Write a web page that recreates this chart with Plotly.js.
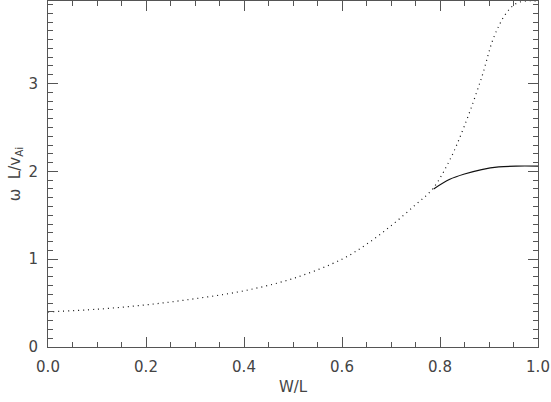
<!DOCTYPE html>
<html>
<head>
<meta charset="utf-8">
<script src="https://cdn.plot.ly/plotly-3.0.1.min.js"></script>
<style>
  html, body { margin: 0; padding: 0; background: #fff; }
  #chart { width: 551px; height: 402px; }
</style>
</head>
<body>
<div id="chart"></div>
<script>
// dotted branch (whole range)
const widthDotted = [0, 0.1, 0.2, 0.3, 0.4, 0.5, 0.6, 0.65, 0.7, 0.75, 0.785, 0.82, 0.85, 0.885, 0.91, 0.935, 0.955, 0.975, 1.0];
const omegaDotted = [0.40, 0.43, 0.48, 0.55, 0.64, 0.78, 1.0, 1.17, 1.38, 1.62, 1.80, 2.13, 2.52, 3.07, 3.53, 3.80, 3.91, 3.94, 3.94];

// solid branch (appears near W/L ~ 0.79)
const widthSolid = [0.787, 0.82, 0.85, 0.885, 0.92, 0.955, 1.0];
const omegaSolid = [1.80, 1.91, 1.97, 2.02, 2.05, 2.06, 2.06];

const axisColor = '#555';
const textFont = { family: 'DejaVu Sans', size: 15, color: '#444' };

let data = [
    {
        x: widthDotted,
        y: omegaDotted,
        mode: 'lines',
        line: { color: '#111', width: 1.2, dash: '1px,4px', shape: 'spline' },
        hoverinfo: 'skip',
    },
    {
        x: widthSolid,
        y: omegaSolid,
        mode: 'lines',
        line: { color: '#111', width: 1.2, shape: 'spline' },
        hoverinfo: 'skip',
    },
];

let layout = {
    width: 551,
    height: 402,
    showlegend: false,
    paper_bgcolor: '#fff',
    plot_bgcolor: '#fff',
    margin: { l: 48, r: 13, t: 1, b: 55 },
    font: textFont,

    xaxis: {
        range: [0, 1],
        dtick: 0.2,
        tickformat: '.1f',
        ticks: 'inside',
        ticklen: 10,
        tickcolor: axisColor,
        ticklabelstandoff: 6,
        showline: true,
        linecolor: axisColor,
        mirror: 'allticks',
        showgrid: false,
        zeroline: false,
        minor: { dtick: 0.05, ticks: 'inside', ticklen: 5, tickcolor: axisColor },
        title: { text: 'W/L', font: textFont, standoff: 6 },
    },
    yaxis: {
        range: [0, 3.94],
        dtick: 1,
        ticks: 'inside',
        ticklen: 10,
        tickcolor: axisColor,
        ticklabelstandoff: 6,
        showline: true,
        linecolor: axisColor,
        mirror: 'allticks',
        showgrid: false,
        zeroline: false,
        minor: { dtick: 0.1, ticks: 'inside', ticklen: 5, tickcolor: axisColor },
        title: { text: 'ω  L/v<sub>Ai</sub>', font: textFont, standoff: 4 },
    },
};

Plotly.newPlot('chart', data, layout, { staticPlot: true });
</script>
</body>
</html>
